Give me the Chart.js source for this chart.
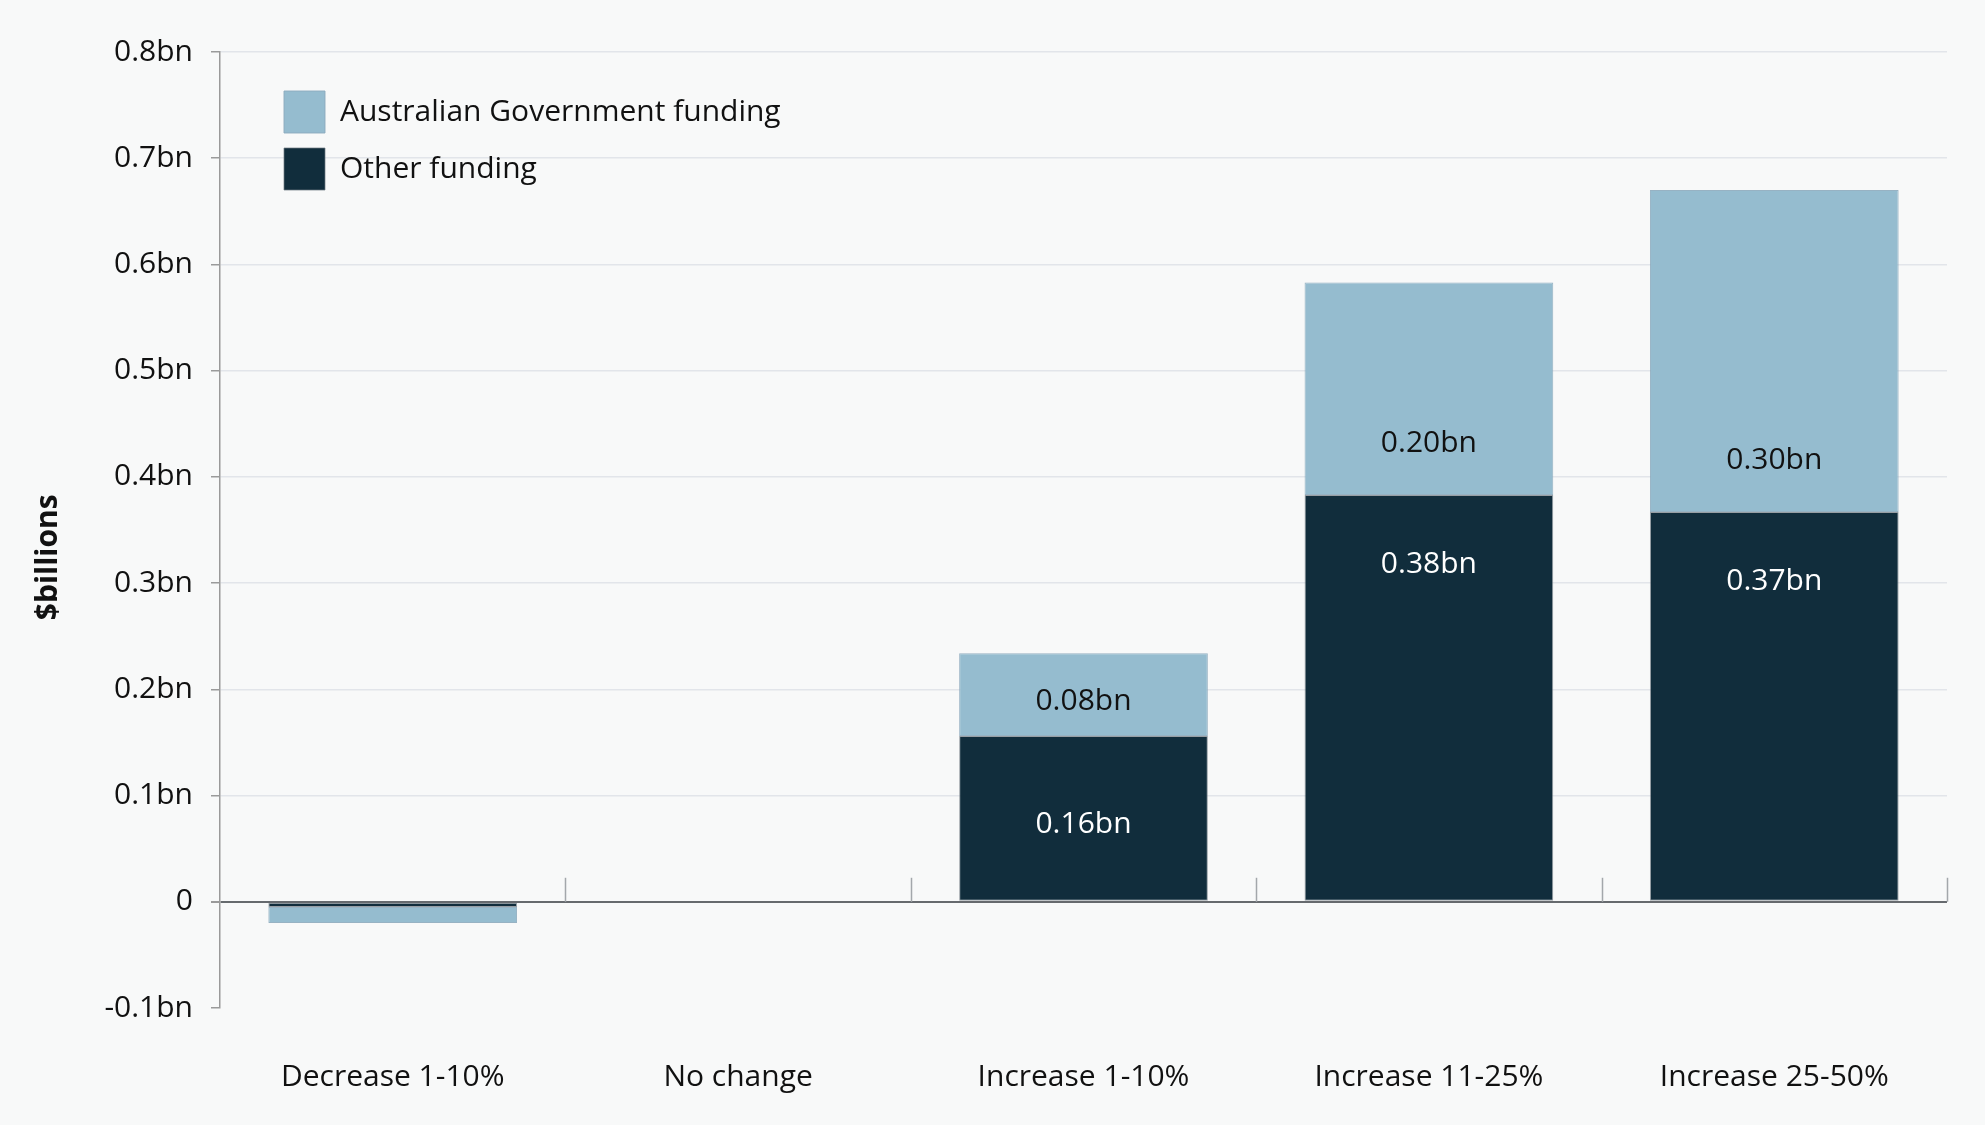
<!DOCTYPE html>
<html lang="en">
<head>
    <meta charset="UTF-8">
    <title>Funding change by category</title>
    <script src="https://cdn.jsdelivr.net/npm/chart.js@4.4.1/dist/chart.umd.min.js"></script>
    <style>
        html, body {
            margin: 0;
            padding: 0;
            background-color: #f8f9f9;
        }
        .chart-box {
            width: 1985px;
            height: 1125px;
            position: relative;
        }
    </style>
</head>
<body>
    <div class="chart-box">
        <canvas id="fundingChart"></canvas>
    </div>
    <script>
        // data ($ billions)
        const categories = ['Decrease 1-10%', 'No change', 'Increase 1-10%', 'Increase 11-25%', 'Increase 25-50%'];
        const otherFunding = [-0.005, 0, 0.156, 0.383, 0.367];
        const govFunding = [-0.015, 0, 0.078, 0.200, 0.303];
        const yMin = -0.1;
        const yMax = 0.8;
        const yStep = 0.1;

        const darkBlue = '#112d3c';
        const lightBlue = '#95bccf';
        const fontFamily = '"Open Sans", sans-serif';

        Chart.defaults.font.family = fontFamily;
        Chart.defaults.font.size = 30;
        Chart.defaults.color = '#111111';

        // short upward ticks on the zero line at each category boundary
        const boundaryTicks = {
            id: 'boundaryTicks',
            beforeDatasetsDraw(chart) {
                const x = chart.scales.x;
                const y0 = chart.scales.y.getPixelForValue(0);
                const ctx = chart.ctx;
                const step = (x.right - x.left) / categories.length;
                ctx.save();
                ctx.strokeStyle = '#a3a7ab';
                ctx.lineWidth = 1.5;
                for (let i = 1; i <= categories.length; i++) {
                    const bx = Math.round(x.left + i * step) + 0.5;
                    ctx.beginPath();
                    ctx.moveTo(bx, y0 - 24);
                    ctx.lineTo(bx, y0);
                    ctx.stroke();
                }
                ctx.restore();
            }
        };

        // value labels inside the bar segments
        const segmentLabels = {
            id: 'segmentLabels',
            afterDatasetsDraw(chart) {
                const ctx = chart.ctx;
                ctx.save();
                ctx.font = '30px ' + fontFamily;
                ctx.textAlign = 'center';
                ctx.textBaseline = 'middle';
                chart.data.datasets.forEach((ds, di) => {
                    const meta = chart.getDatasetMeta(di);
                    meta.data.forEach((bar, i) => {
                        const v = ds.data[i];
                        if (Math.abs(v) < 0.05) return;
                        const p = bar.getProps(['x', 'y', 'base'], true);
                        const top = Math.min(p.y, p.base);
                        const bottom = Math.max(p.y, p.base);
                        const h = bottom - top;
                        let cy;
                        if (di === 0) {
                            cy = h < 200 ? (top + bottom) / 2 + 6 : top + 70;
                            ctx.fillStyle = '#ffffff';
                        } else {
                            cy = h < 200 ? (top + bottom) / 2 + 7 : bottom - 51;
                            ctx.fillStyle = '#111111';
                        }
                        ctx.fillText(v.toFixed(2) + 'bn', p.x, cy);
                    });
                });
                ctx.restore();
            }
        };

        // put the in-chart legend where the reference has it
        const legendOffset = {
            id: 'legendOffset',
            afterLayout(chart) {
                chart.legend.left = chart.chartArea.left + 49;
                chart.legend.top = chart.chartArea.top + 24;
            }
        };

        const ctx = document.getElementById('fundingChart').getContext('2d');
        new Chart(ctx, {
            type: 'bar',
            data: {
                labels: categories,
                datasets: [
                    {
                        label: 'Other funding',
                        data: otherFunding,
                        backgroundColor: darkBlue,
                        borderColor: 'rgba(110,120,128,0.7)',
                        borderWidth: 1,
                        borderSkipped: false
                    },
                    {
                        label: 'Australian Government funding',
                        data: govFunding,
                        backgroundColor: lightBlue,
                        borderColor: 'rgba(140,170,188,0.9)',
                        borderWidth: 1,
                        borderSkipped: false
                    }
                ]
            },
            options: {
                responsive: true,
                maintainAspectRatio: false,
                animation: false,
                layout: {
                    padding: { top: 52, right: 38, bottom: 0, left: 0 }
                },
                datasets: {
                    bar: {
                        barPercentage: 0.72,
                        categoryPercentage: 1
                    }
                },
                plugins: {
                    tooltip: { enabled: false },
                    legend: {
                        position: 'chartArea',
                        align: 'start',
                        reverse: true,
                        labels: {
                            boxWidth: 41,
                            boxHeight: 42,
                            padding: 15,
                            color: '#111111',
                            font: { size: 30 }
                        }
                    }
                },
                scales: {
                    x: {
                        stacked: true,
                        grid: { display: false, drawTicks: false },
                        border: { display: false },
                        ticks: {
                            padding: 51,
                            color: '#111111',
                            font: { size: 30 }
                        },
                        afterFit(scale) {
                            scale.height = 117;
                        }
                    },
                    y: {
                        stacked: true,
                        min: yMin,
                        max: yMax,
                        border: { color: '#9a9a9a', width: 1.5 },
                        grid: {
                            color(c) {
                                const v = c.tick.value;
                                if (Math.abs(v) < 1e-9) return '#666a6e';
                                if (v < 0) return 'rgba(0,0,0,0)';
                                return '#e2e5ea';
                            },
                            lineWidth(c) {
                                return Math.abs(c.tick.value) < 1e-9 ? 2 : 1.5;
                            },
                            tickColor: '#9a9a9a',
                            tickLength: 9
                        },
                        ticks: {
                            stepSize: yStep,
                            padding: 18,
                            color: '#111111',
                            font: { size: 30 },
                            callback(value) {
                                if (Math.abs(value) < 1e-9) return '0';
                                return value.toFixed(1) + 'bn';
                            }
                        },
                        title: {
                            display: true,
                            // trailing spaces push the rotated title a little below centre
                            text: '$billions       ',
                            color: '#111111',
                            font: { size: 30, weight: 'bold' },
                            padding: { top: 30, bottom: 0 }
                        },
                        afterFit(scale) {
                            scale.width = 220;
                        }
                    }
                }
            },
            plugins: [boundaryTicks, segmentLabels, legendOffset]
        });
    </script>
</body>
</html>
